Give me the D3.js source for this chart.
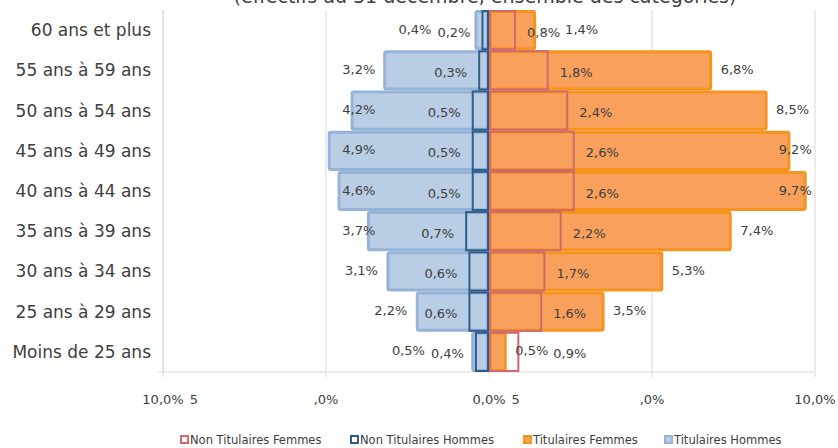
<!DOCTYPE html>
<html>
<head>
<meta charset="utf-8">
<script src="https://cdn.jsdelivr.net/npm/d3@7"></script>
<style>
  body { margin: 0; background: #fff; }
  svg { display: block; font-family: "DejaVu Sans", sans-serif; }
  text { fill: #404040; }
</style>
</head>
<body>
<div id="chart"></div>
<script>
// age groups, top to bottom
var categories = ["60 ans et plus", "55 ans à 59 ans", "50 ans à 54 ans", "45 ans à 49 ans",
                  "40 ans à 44 ans", "35 ans à 39 ans", "30 ans à 34 ans", "25 ans à 29 ans",
                  "Moins de 25 ans"];
var titHommes = [0.4, 3.2, 4.2, 4.9, 4.6, 3.7, 3.1, 2.2, 0.5];
var ntHommes  = [0.2, 0.3, 0.5, 0.5, 0.5, 0.7, 0.6, 0.6, 0.4];
var titFemmes = [1.4, 6.8, 8.5, 9.2, 9.7, 7.4, 5.3, 3.5, 0.5];
var ntFemmes  = [0.8, 1.8, 2.4, 2.6, 2.6, 2.2, 1.7, 1.6, 0.9];
var tickValues = [-10, -5, 0, 5, 10];
var tickLabels = ["10,0%", ",0%", "0,0%", ",0%", "10,0%"];
var tickExtra  = ["5", "", "5", "", ""];
var legendNames = ["Non Titulaires Femmes", "Non Titulaires Hommes", "Titulaires Femmes", "Titulaires Hommes"];

var W = 838, H = 448;
var margin = {top: 10, right: 23, bottom: 76, left: 163};

var svg = d3.select("#chart").append("svg").attr("width", W).attr("height", H);

var x = d3.scaleLinear().domain([-10, 10]).range([margin.left, W - margin.right]);
var y = d3.scaleBand().domain(categories).range([margin.top, H - margin.bottom]).padding(0);

var col = {
  titH: {fill: "#b9cde5", stroke: "#95b3d7"},
  titF: {fill: "#f9a15c", stroke: "#f7941e"},
  ntH: "#2f5d8a",
  ntF: "#d0696b"
};
var fmt = function(v){ return d3.format(".1f")(v).replace(".", ",") + "%"; };

// title, mostly cut off by the top of the picture
svg.append("text")
  .attr("x", 485).attr("y", 3)
  .attr("text-anchor", "middle")
  .style("font-size", "19px")
  .text("(effectifs au 31 décembre, ensemble des catégories)");

// gridlines
svg.append("g").selectAll("line")
  .data(tickValues)
  .enter().append("line")
  .attr("x1", d => x(d)).attr("x2", d => x(d))
  .attr("y1", margin.top).attr("y2", H - margin.bottom + 5)
  .attr("stroke", "#d9d9d9").attr("stroke-width", 1);

// bottom axis line
svg.append("line")
  .attr("x1", x(-10)).attr("x2", x(10))
  .attr("y1", H - margin.bottom).attr("y2", H - margin.bottom)
  .attr("stroke", "#d9d9d9");

// tick labels
var tl = svg.append("g").selectAll("g")
  .data(tickValues)
  .enter().append("g")
  .attr("transform", d => "translate(" + x(d) + "," + (H - margin.bottom + 32) + ")");
tl.append("text")
  .attr("text-anchor", "middle")
  .style("font-size", "13px")
  .text((d, i) => tickLabels[i]);
tl.each(function(d, i){
  if (!tickExtra[i]) return;
  var w = d3.select(this).select("text").node().getComputedTextLength();
  d3.select(this).append("text")
    .attr("x", w / 2 + 6)
    .style("font-size", "13px")
    .text(tickExtra[i]);
});

var rows = categories.map(function(c, i){
  return {cat: c, th: titHommes[i], nh: ntHommes[i], tf: titFemmes[i], nf: ntFemmes[i]};
});

// titulaires bars (filled)
var bh = y.bandwidth();
svg.append("g").selectAll("rect")
  .data(rows)
  .enter().append("rect")
  .attr("x", d => x(-d.th)).attr("y", d => y(d.cat) + 1.5)
  .attr("width", d => x(0) - 1.5 - x(-d.th)).attr("height", bh - 3)
  .attr("rx", 1.5)
  .attr("fill", col.titH.fill).attr("stroke", col.titH.stroke).attr("stroke-width", 3);

svg.append("g").selectAll("rect")
  .data(rows)
  .enter().append("rect")
  .attr("x", x(0) + 1.5).attr("y", d => y(d.cat) + 1.5)
  .attr("width", d => x(d.tf) - x(0) - 1.5).attr("height", bh - 3)
  .attr("rx", 1.5)
  .attr("fill", col.titF.fill).attr("stroke", col.titF.stroke).attr("stroke-width", 3);

// zero line
svg.append("line")
  .attr("x1", x(0)).attr("x2", x(0))
  .attr("y1", margin.top).attr("y2", H - margin.bottom)
  .attr("stroke", "#bfbfbf").attr("stroke-width", 1.5);

// non titulaires (outline only)
svg.append("g").selectAll("rect")
  .data(rows)
  .enter().append("rect")
  .attr("x", d => x(-d.nh)).attr("y", d => y(d.cat) + 1)
  .attr("width", d => x(0) - 1 - x(-d.nh)).attr("height", bh - 2)
  .attr("fill", "none").attr("stroke", col.ntH).attr("stroke-width", 2);

svg.append("g").selectAll("rect")
  .data(rows)
  .enter().append("rect")
  .attr("x", x(0) + 1).attr("y", d => y(d.cat) + 1)
  .attr("width", d => x(d.nf) - x(0) - 1).attr("height", bh - 2)
  .attr("fill", "none").attr("stroke", col.ntF).attr("stroke-width", 2);

// category axis
svg.append("line")
  .attr("x1", x(-10)).attr("x2", x(-10))
  .attr("y1", margin.top).attr("y2", H - margin.bottom)
  .attr("stroke", "#d9d9d9");
svg.append("line")
  .attr("x1", x(-10) - 5).attr("x2", x(-10))
  .attr("y1", H - margin.bottom).attr("y2", H - margin.bottom)
  .attr("stroke", "#d9d9d9");
svg.append("g").selectAll("text")
  .data(categories)
  .enter().append("text")
  .attr("x", x(-10) - 12)
  .attr("y", d => y(d) + bh / 2)
  .attr("dy", "0.35em")
  .attr("text-anchor", "end")
  .style("font-size", "17px")
  .text(d => d);

// data labels, Excel-like placement with simple collision push
var labelG = svg.append("g").style("font-size", "13px");
function measure(t){
  var n = labelG.append("text").text(t);
  var w = n.node().getComputedTextLength();
  n.remove();
  return w;
}
rows.forEach(function(r){
  var cy = y(r.cat) + bh / 2;
  // hommes (left side): innermost label first, the other pushed outward
  var left = [
    {v: r.nh, dy: 2, off: 12, tit: false},
    {v: r.th, dy: -1, off: 10, tit: true}
  ];
  left.forEach(function(l){
    l.t = fmt(l.v); l.w = measure(l.t);
    l.right = x(-l.v) - l.off;
    if (l.tit && l.right - l.w < x(-4.5)) l.right = x(-4.5) + l.w;
  });
  left.sort((a, b) => b.right - a.right);
  var lim = left[0].right - left[0].w - 6;
  if (left[1].right > lim) left[1].right = lim;
  left.forEach(function(l){
    labelG.append("text").attr("x", l.right).attr("y", cy + l.dy)
      .attr("dy", "0.35em").attr("text-anchor", "end").text(l.t);
  });
  // femmes (right side)
  var right = [
    {v: r.tf, dy: -1, off: 10, tit: true},
    {v: r.nf, dy: 2, off: 12, tit: false}
  ];
  right.forEach(function(l){
    l.t = fmt(l.v); l.w = measure(l.t);
    l.left = x(l.v) + l.off;
    if (l.tit && l.left + l.w > x(9.9)) l.left = x(9.9) - l.w;
  });
  right.sort((a, b) => a.left - b.left);
  var lim2 = right[0].left + right[0].w + 5;
  if (right[1].left < lim2) right[1].left = lim2;
  right.forEach(function(l){
    labelG.append("text").attr("x", l.left).attr("y", cy + l.dy)
      .attr("dy", "0.35em").text(l.t);
  });
});

// legend
var legendStyle = [
  {fill: "#fff", stroke: col.ntF},
  {fill: "#fff", stroke: col.ntH},
  {fill: col.titF.fill, stroke: col.titF.stroke},
  {fill: col.titH.fill, stroke: col.titH.stroke}
];
var legendX = [180, 350, 523, 664];
var lg = svg.append("g").selectAll("g")
  .data(legendNames)
  .enter().append("g")
  .attr("transform", (d, i) => "translate(" + legendX[i] + "," + 440 + ")");
lg.append("rect")
  .attr("x", 1).attr("y", -4).attr("width", 7).attr("height", 7)
  .attr("fill", (d, i) => legendStyle[i].fill)
  .attr("stroke", (d, i) => legendStyle[i].stroke).attr("stroke-width", 2);
lg.append("text")
  .attr("x", 10).attr("dy", "0.35em")
  .style("font-size", "11.5px")
  .text(d => d);
</script>
</body>
</html>
